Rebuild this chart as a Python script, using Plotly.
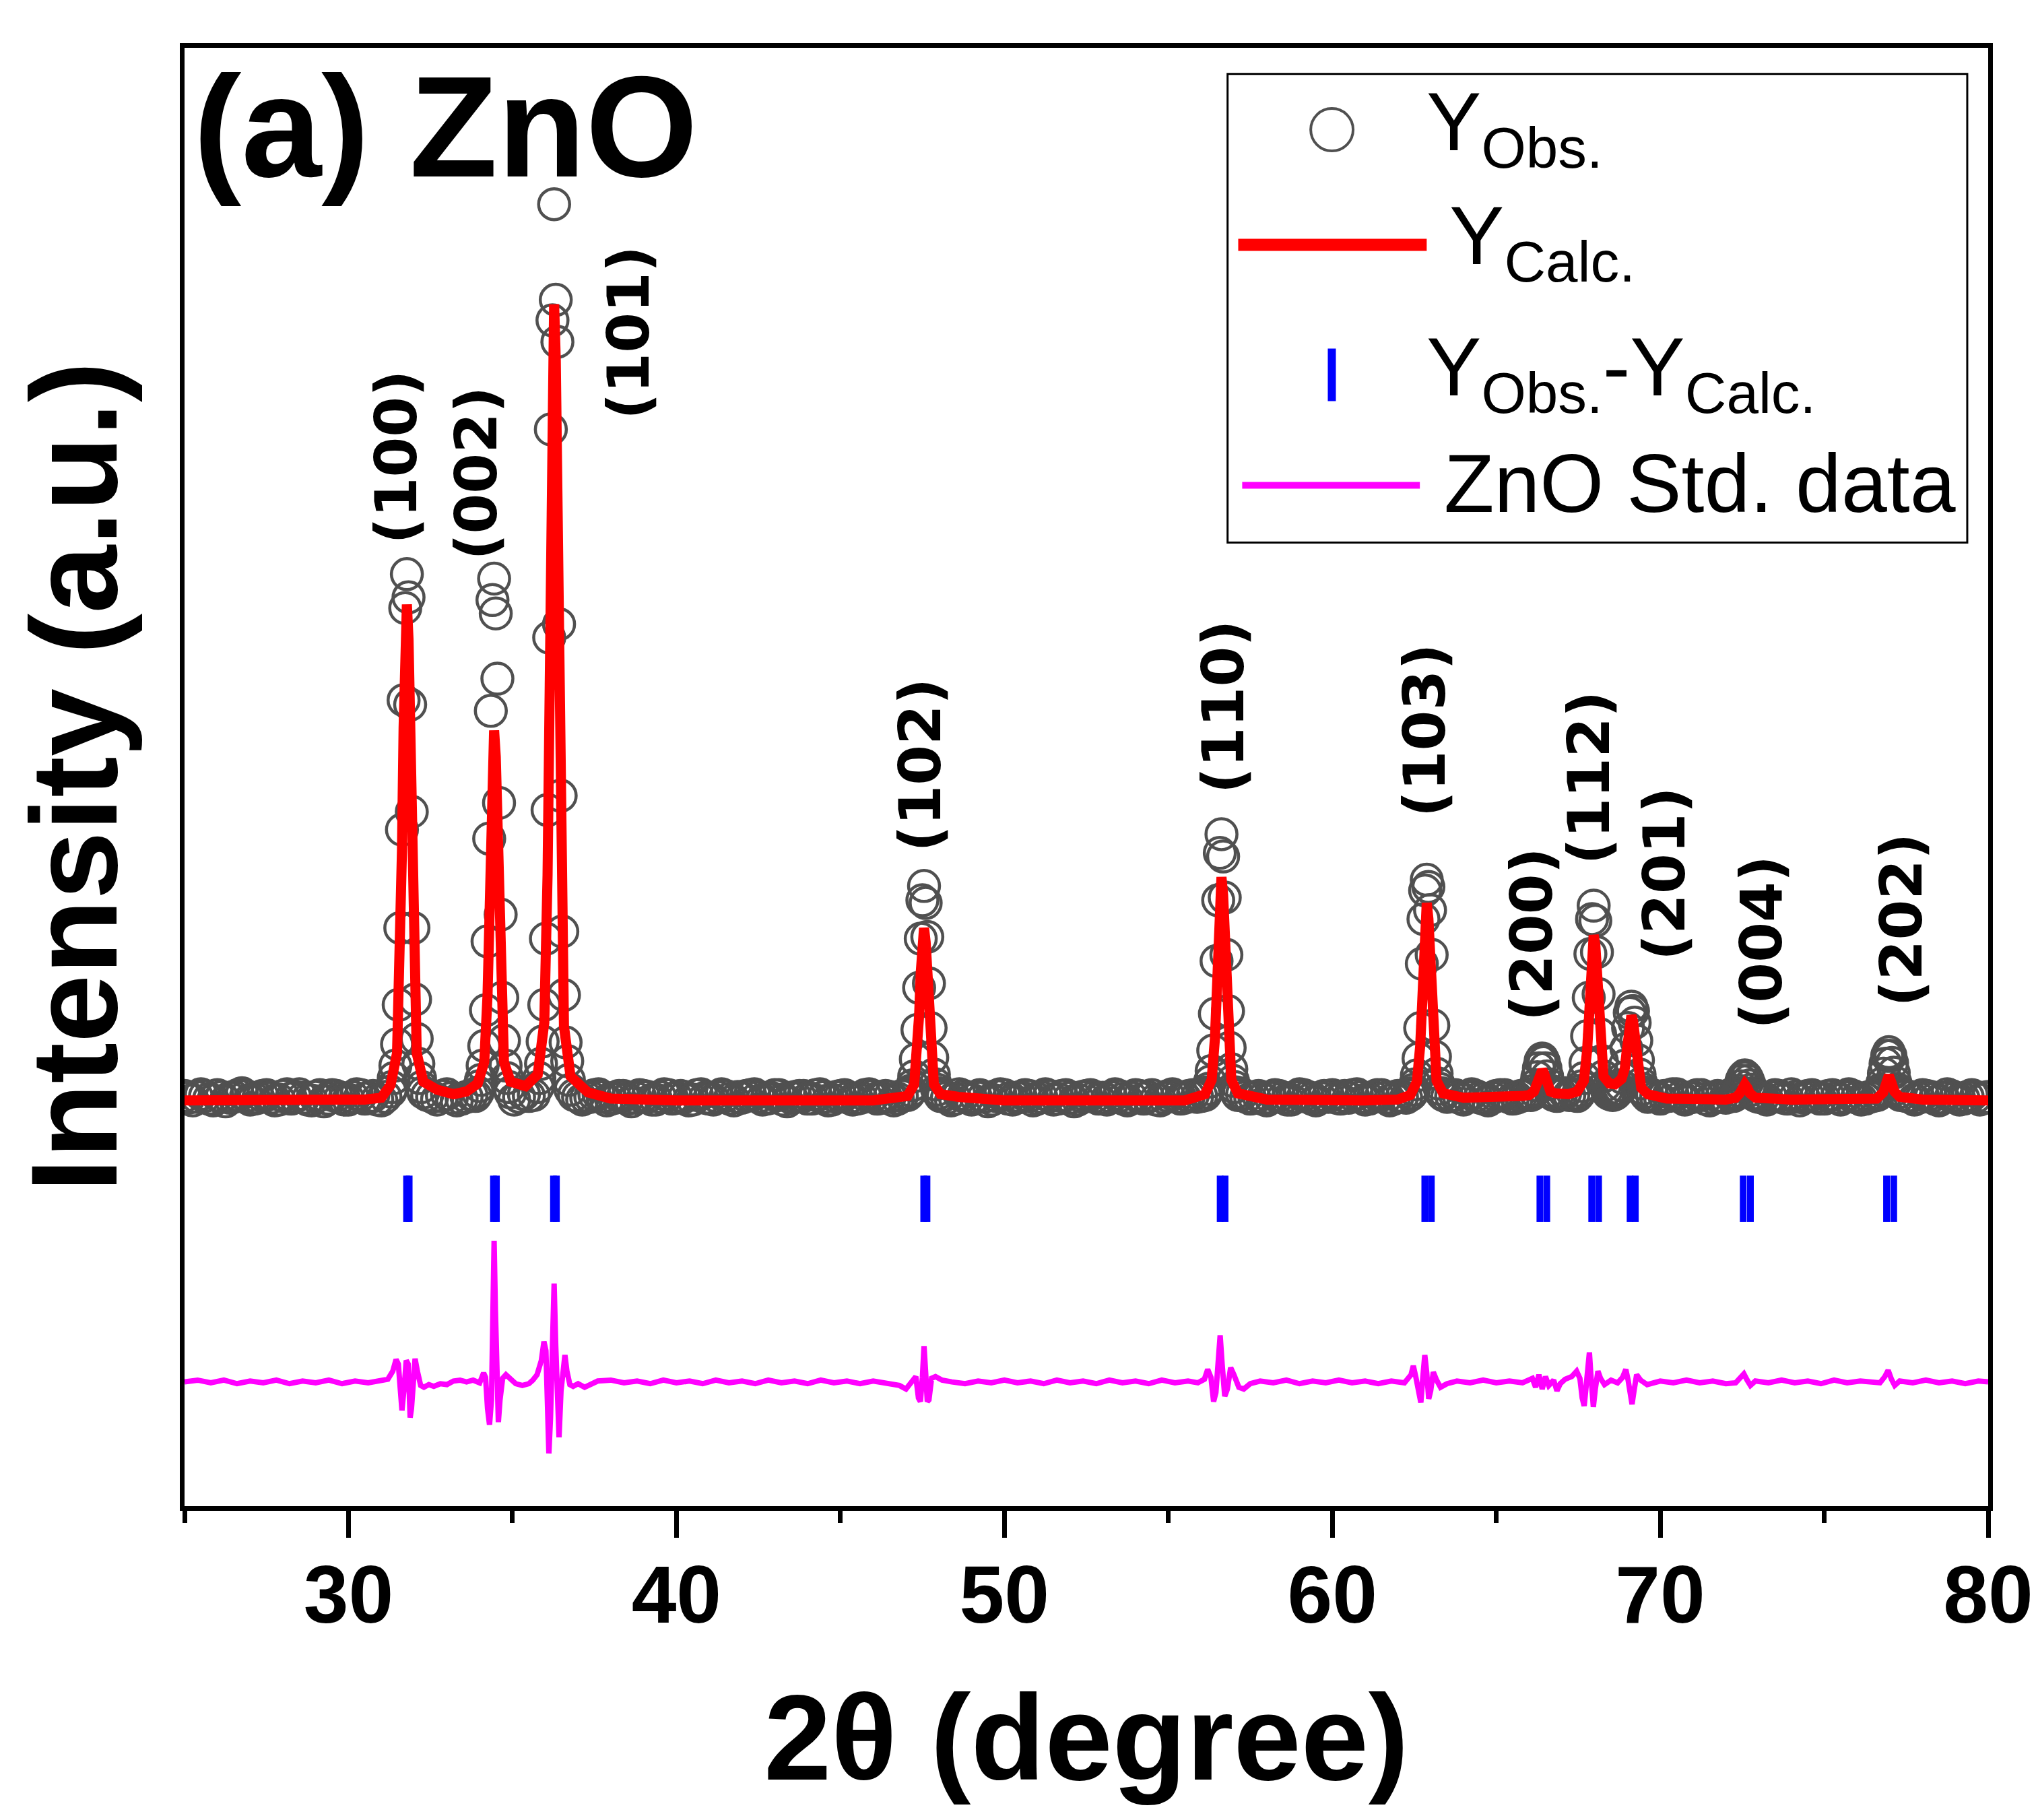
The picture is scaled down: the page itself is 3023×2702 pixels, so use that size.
import plotly.graph_objects as go

# observed pattern (2theta, counts in arbitrary units)
obs_2theta = [
    25.0, 25.125, 25.25, 25.375, 25.5, 25.625, 25.75, 25.875, 26.0, 26.125,
    26.25, 26.375, 26.5, 26.625, 26.75, 26.875, 27.0, 27.125, 27.25, 27.375,
    27.5, 27.625, 27.75, 27.875, 28.0, 28.125, 28.25, 28.375, 28.5, 28.625,
    28.75, 28.875, 29.0, 29.125, 29.25, 29.375, 29.5, 29.625, 29.75, 29.875,
    30.0, 30.125, 30.25, 30.375, 30.5, 30.625, 30.75, 30.875, 31.0, 31.125,
    31.28, 31.33, 31.38, 31.43, 31.48, 31.53, 31.58, 31.63, 31.68, 31.73, 31.78, 31.83, 31.88,
    31.93, 31.98, 32.03, 32.08, 32.13, 32.18, 32.23, 32.28,
    32.4, 32.55, 32.7, 32.85, 33.0, 33.15, 33.3, 33.45, 33.6, 33.75, 33.87,
    33.94, 33.99, 34.04, 34.09, 34.14, 34.19, 34.24, 34.29, 34.34, 34.39, 34.44, 34.49, 34.54,
    34.59, 34.64, 34.69, 34.74, 34.79, 34.84, 34.89, 34.94,
    35.05, 35.2, 35.35, 35.5, 35.65,
    35.77, 35.82, 35.87, 35.92, 35.97, 36.02, 36.07, 36.12, 36.17, 36.22, 36.27, 36.32, 36.37,
    36.42, 36.47, 36.52, 36.57, 36.62, 36.67, 36.72, 36.77,
    36.875, 37.0, 37.125, 37.25, 37.375, 37.5, 37.625, 37.75, 37.875, 38.0,
    38.125, 38.25, 38.375, 38.5, 38.625, 38.75, 38.875, 39.0, 39.125, 39.25,
    39.375, 39.5, 39.625, 39.75, 39.875, 40.0, 40.125, 40.25, 40.375, 40.5,
    40.625, 40.75, 40.875, 41.0, 41.125, 41.25, 41.375, 41.5, 41.625, 41.75,
    41.875, 42.0, 42.125, 42.25, 42.375, 42.5, 42.625, 42.75, 42.875, 43.0,
    43.125, 43.25, 43.375, 43.5, 43.625, 43.75, 43.875, 44.0, 44.125, 44.25,
    44.375, 44.5, 44.625, 44.75, 44.875, 45.0, 45.125, 45.25, 45.375, 45.5,
    45.625, 45.75, 45.875, 46.0, 46.125, 46.25, 46.375, 46.5, 46.625, 46.75,
    46.875,
    47.05, 47.10, 47.15, 47.20, 47.25, 47.30, 47.35, 47.40, 47.45, 47.50, 47.55, 47.60, 47.65,
    47.70, 47.75, 47.80, 47.85, 47.90, 47.95, 48.00, 48.05,
    48.125, 48.25, 48.375, 48.5, 48.625, 48.75, 48.875, 49.0, 49.125, 49.25,
    49.375, 49.5, 49.625, 49.75, 49.875, 50.0, 50.125, 50.25, 50.375, 50.5,
    50.625, 50.75, 50.875, 51.0, 51.125, 51.25, 51.375, 51.5, 51.625, 51.75,
    51.875, 52.0, 52.125, 52.25, 52.375, 52.5, 52.625, 52.75, 52.875, 53.0,
    53.125, 53.25, 53.375, 53.5, 53.625, 53.75, 53.875, 54.0, 54.125, 54.25,
    54.375, 54.5, 54.625, 54.75, 54.875, 55.0, 55.125, 55.25, 55.375, 55.5,
    55.625, 55.75, 55.875, 56.0,
    56.12, 56.17, 56.22, 56.27, 56.32, 56.37, 56.42, 56.47, 56.52, 56.57, 56.62, 56.67, 56.72,
    56.77, 56.82, 56.87, 56.92, 56.97, 57.02, 57.07, 57.12,
    57.25, 57.375, 57.5, 57.625, 57.75, 57.875, 58.0, 58.125, 58.25, 58.375,
    58.5, 58.625, 58.75, 58.875, 59.0, 59.125, 59.25, 59.375, 59.5, 59.625,
    59.75, 59.875, 60.0, 60.125, 60.25, 60.375, 60.5, 60.625, 60.75, 60.875,
    61.0, 61.125, 61.25, 61.375, 61.5, 61.625, 61.75, 61.875, 62.0, 62.125,
    62.25,
    62.38, 62.43, 62.48, 62.53, 62.58, 62.63, 62.68, 62.73, 62.78, 62.83, 62.88, 62.93, 62.98,
    63.03, 63.08, 63.13, 63.18, 63.23, 63.28, 63.33, 63.38,
    63.5, 63.625, 63.75, 63.875, 64.0, 64.125, 64.25, 64.375, 64.5, 64.625,
    64.75, 64.875, 65.0, 65.125, 65.25, 65.375, 65.5, 65.625, 65.75, 65.875, 65.97,
    66.05, 66.10, 66.15, 66.20, 66.25, 66.30, 66.35, 66.40, 66.45, 66.50, 66.55, 66.60, 66.65,
    66.70, 66.75,
    66.85, 66.975, 67.1, 67.225, 67.35,
    67.47, 67.52, 67.57, 67.62, 67.67, 67.72, 67.77, 67.82, 67.87, 67.92, 67.97, 68.02, 68.07,
    68.12, 68.17, 68.22, 68.27, 68.32, 68.37, 68.42, 68.47,
    68.55,
    68.62, 68.67, 68.72, 68.77, 68.82, 68.87, 68.92, 68.97, 69.02, 69.07, 69.12, 69.17, 69.22,
    69.27, 69.32, 69.37, 69.42, 69.47, 69.52, 69.57, 69.62,
    69.75, 69.875, 70.0, 70.125, 70.25, 70.375, 70.5, 70.625, 70.75, 70.875,
    71.0, 71.125, 71.25, 71.375, 71.5, 71.625, 71.75, 71.875, 72.0, 72.125,
    72.23, 72.28, 72.33, 72.38, 72.43, 72.48, 72.53, 72.58, 72.63, 72.68, 72.73, 72.78, 72.83,
    72.88, 72.93,
    73.0, 73.125, 73.25, 73.375, 73.5, 73.625, 73.75, 73.875, 74.0, 74.125,
    74.25, 74.375, 74.5, 74.625, 74.75, 74.875, 75.0, 75.125, 75.25, 75.375,
    75.5, 75.625, 75.75, 75.875, 76.0, 76.125, 76.25, 76.375, 76.5,
    76.62, 76.67, 76.72, 76.77, 76.82, 76.87, 76.92, 76.97, 77.02, 77.07, 77.12, 77.17, 77.22,
    77.27, 77.32,
    77.5, 77.625, 77.75, 77.875, 78.0, 78.125, 78.25, 78.375, 78.5, 78.625,
    78.75, 78.875, 79.0, 79.125, 79.25, 79.375, 79.5, 79.625, 79.75, 79.875, 80.0,
]
obs_intensity = [
    2, 0, -3, 1, 4, 2, -1, -3, 3, 1,
    -4, 0, 1, 3, 5, 2, -2, -1, 0, 2,
    3, 0, -3, -2, 2, 4, -1, 1, 4, 0,
    -2, -3, 1, 3, -4, -1, 3, 2, 0, -2,
    -2, 1, 4, 3, -1, 0, 2, -2, -3, 1,
    7, 12, 22, 36, 60, 104, 190, 300, 445, 548, 586, 560, 440, 320, 190, 110, 66, 38, 22, 12, 6,
    3, 1, -2, 2, 4, 0, -3, -1, 1, 3, 2,
    6, 13, 20, 36, 58, 98, 175, 290, 433, 557, 581, 542, 469, 330, 205, 112, 64, 36, 22, 12, 6,
    -2, 1, 4, 2, 3,
    12, 22, 38, 63, 104, 178, 322, 515, 748, 870, 1000, 893, 846, 530, 338, 186, 115, 62, 41, 20, 9,
    3, 1, -2, 0, 1, 3, 4, 1, -3, -1,
    0, 2, 2, -1, -4, 0, 3, 2, 1, -2,
    -2, 1, 4, 3, -1, 0, 2, 1, -3, -2,
    3, 4, 0, -1, -2, 1, 4, 2, -1, -3,
    1, 0, 2, 3, 4, 1, -2, -1, 0, 3,
    3, -2, -4, 0, 1, 2, 2, -1, -1, 3,
    4, 1, -3, -2, 1, 2, 3, 0, -2, -1,
    0, 3, 4, 2, -1, 0, 2, 1, -3, -1,
    2,
    3, 5, 8, 14, 24, 43, 76, 123, 178, 221, 237, 218, 180, 128, 78, 45, 26, 15, 9, 5, 2,
    2, 0, -3, -1, 4, 2, 0, -2, 1, 3,
    1, -4, -2, 2, 4, 3, -1, -2, 0, 1,
    3, 2, -3, -1, 1, 4, 2, -2, -1, 2,
    3, 0, -4, -2, 1, 2, 3, 1, -1, 0,
    -2, 1, 4, 2, -1, -3, 0, 3, 2, -1,
    1, 3, -2, -3, 0, 2, 4, 1, -1, 0,
    2, 3, 1, 2,
    3, 6, 10, 18, 30, 53, 94, 153, 221, 274, 295, 270, 224, 160, 97, 56, 32, 19, 12, 6, 3,
    4, 1, -1, 0, 2, -1, -3, 0, 3, 2,
    0, -2, -2, 1, 4, 3, 1, -1, -3, 0,
    2, 1, 3, 0, -1, 2, 0, 3, 4, 1,
    -2, -1, 1, 3, 3, 0, -3, -1, 2, 1,
    0,
    3, 5, 9, 15, 25, 44, 78, 150, 200, 232, 244, 236, 210, 160, 81, 46, 27, 16, 10, 5, 3,
    1, 2, 3, 0, -2, 1, 4, 2, 0, -1,
    -3, 0, 2, 3, 3, 1, -1, 0, 2, 3, 4,
    3, 4, 8, 14, 23, 33, 41, 44, 40, 33, 24, 15, 8, 5, 3,
    2, 4, 5, 3, 4,
    2, 4, 8, 13, 22, 39, 69, 112, 161, 200, 215, 198, 163, 116, 71, 41, 24, 14, 9, 5, 4,
    3,
    4, 6, 8, 10, 14, 22, 36, 55, 78, 95, 102, 97, 84, 64, 42, 26, 16, 10, 6, 3, 1,
    3, 1, -1, 2, 2, 4, 4, 1, -2, 0,
    1, 3, 3, -1, -3, 0, 2, 1, 0, 3,
    2, 3, 5, 8, 13, 19, 23, 25, 23, 19, 14, 9, 5, 3, 2,
    1, 0, -2, 1, 3, 2, 0, -1, 4, 1,
    -3, 0, 2, 3, 1, -1, -1, 2, 3, 0,
    -2, 1, 4, 2, 0, -2, -1, 1, 2,
    3, 5, 9, 16, 27, 38, 47, 51, 47, 39, 28, 17, 10, 6, 3,
    2, 1, -2, 0, 3, 2, 1, -1, -3, 0,
    4, 2, 0, -2, -1, 1, 3, 1, -2, 0, 1,
]

# calculated (fitted) profile
calc_2theta = [
    25.0, 28.0, 30.5, 31.0,
    31.28, 31.48, 31.58, 31.63, 31.68, 31.73, 31.78, 31.83, 31.88, 31.93, 31.98, 32.08, 32.28,
    32.7, 33.2, 33.6,
    33.94, 34.14, 34.24, 34.29, 34.34, 34.39, 34.44, 34.49, 34.54, 34.59, 34.64, 34.74, 34.94,
    35.4,
    35.77, 35.97, 36.07, 36.12, 36.17, 36.22, 36.27, 36.32, 36.37, 36.42, 36.47, 36.57, 36.77,
    37.3, 38.0, 40.0, 46.0,
    47.05, 47.25, 47.35, 47.40, 47.45, 47.50, 47.55, 47.60, 47.65, 47.70, 47.75, 47.85, 48.05,
    48.6, 50.0, 55.5,
    56.12, 56.32, 56.42, 56.47, 56.52, 56.57, 56.62, 56.67, 56.72, 56.77, 56.82, 56.92, 57.12,
    58.0, 61.0, 62.0,
    62.38, 62.58, 62.68, 62.73, 62.78, 62.83, 62.88, 62.93, 62.98, 63.03, 63.08, 63.18, 63.38,
    64.0, 65.8,
    66.00, 66.15, 66.25, 66.30, 66.35, 66.40, 66.45, 66.50, 66.55, 66.65, 66.80,
    67.2,
    67.47, 67.67, 67.77, 67.82, 67.87, 67.92, 67.97, 68.02, 68.07, 68.12, 68.17, 68.27, 68.45,
    68.62, 68.82, 68.92, 68.97, 69.02, 69.07, 69.12, 69.17, 69.22, 69.27, 69.32, 69.42, 69.62,
    70.2, 72.0,
    72.3, 72.43, 72.50, 72.58, 72.66, 72.73, 72.9,
    74.0,
    76.6, 76.80, 76.89, 76.97, 77.05, 77.14, 77.3,
    78.0, 80.0,
]
calc_intensity = [
    -3, -3, -2, 0,
    14, 50, 155, 276, 414, 513, 552, 513, 414, 276, 155, 50, 18,
    9, 4, 7,
    16, 40, 115, 206, 308, 382, 411, 382, 308, 206, 115, 40, 18,
    13,
    26, 84, 249, 444, 666, 826, 888, 826, 666, 444, 249, 80, 24,
    6, -1, -3, -3,
    2, 15, 50, 92, 140, 174, 190, 174, 140, 92, 50, 15, 4,
    1, -3, -3,
    4, 20, 66, 121, 182, 227, 247, 227, 182, 121, 66, 20, 5,
    -2, -3, -2,
    3, 18, 58, 106, 161, 200, 218, 200, 161, 106, 58, 19, 5,
    0, 2,
    3, 7, 16, 22, 28, 31, 28, 22, 16, 7, 5,
    4,
    7, 19, 53, 93, 139, 171, 182, 171, 139, 93, 55, 24, 16,
    15, 21, 33, 50, 70, 86, 92, 86, 70, 47, 28, 11, 4,
    -1, -2,
    0, 5, 11, 15, 11, 5, 0,
    -2,
    -1, 6, 16, 25, 17, 7, 1,
    -2, -3,
]

# Bragg reflection positions (K-alpha1 / K-alpha2)
bragg_2theta = [31.77, 31.85, 34.42, 34.51, 36.25, 36.34, 47.54, 47.64, 56.58, 56.73,
                62.82, 63.02, 66.33, 66.54, 67.91, 68.12, 69.08, 69.24, 72.53, 72.75,
                76.90, 77.12]

# difference curve (before vertical shift)
diff_2theta = [
    25.0, 25.4, 25.8, 26.2, 26.6, 27.0, 27.4, 27.8, 28.2, 28.6, 29.0, 29.4, 29.8, 30.2, 30.6,
    31.0, 31.2, 31.35, 31.45, 31.52, 31.58, 31.63, 31.70, 31.76, 31.82, 31.88, 31.92, 31.97,
    32.03, 32.10, 32.2, 32.3, 32.45, 32.6, 32.8, 33.0, 33.2, 33.4, 33.6, 33.8, 34.0, 34.12,
    34.18, 34.24, 34.30, 34.36, 34.40, 34.44, 34.48, 34.52, 34.57, 34.62, 34.70, 34.80, 34.95,
    35.1, 35.3, 35.5, 35.62, 35.75, 35.88, 35.96, 36.02, 36.07, 36.11, 36.16, 36.22, 36.27,
    36.32, 36.38, 36.42, 36.48, 36.54, 36.60, 36.66, 36.75, 36.85, 37.0, 37.2, 37.4, 37.6,
    38.0, 38.4, 38.8, 39.2, 39.6, 40.0, 40.4, 40.8, 41.2, 41.6, 42.0, 42.4, 42.8, 43.2, 43.6,
    44.0, 44.4, 44.8, 45.2, 45.6, 46.0, 46.4, 46.8, 47.0, 47.15, 47.30, 47.38, 47.44, 47.50,
    47.55, 47.60, 47.65, 47.70, 47.78, 47.9, 48.1, 48.4, 48.8, 49.2, 49.6, 50.0, 50.4, 50.8,
    51.2, 51.6, 52.0, 52.4, 52.8, 53.2, 53.6, 54.0, 54.4, 54.8, 55.2, 55.6, 55.9, 56.1, 56.2,
    56.3, 56.38, 56.45, 56.52, 56.58, 56.64, 56.72, 56.80, 56.90, 57.0, 57.15, 57.3, 57.5,
    57.8, 58.2, 58.6, 59.0, 59.4, 59.8, 60.2, 60.6, 61.0, 61.4, 61.8, 62.2, 62.4, 62.47, 62.55,
    62.62, 62.70, 62.76, 62.82, 62.88, 62.94, 63.0, 63.08, 63.18, 63.3, 63.5, 63.8, 64.2, 64.6,
    65.0, 65.4, 65.8, 66.1, 66.2, 66.3, 66.4, 66.5, 66.6, 66.75, 66.85, 66.95, 67.1, 67.3,
    67.45, 67.55, 67.62, 67.68, 67.74, 67.80, 67.84, 67.88, 67.92, 67.96, 68.02, 68.10, 68.18,
    68.3, 68.5, 68.7, 68.85, 68.95, 69.02, 69.08, 69.14, 69.20, 69.28, 69.4, 69.6, 70.0, 70.4,
    70.8, 71.2, 71.6, 72.0, 72.3, 72.45, 72.55, 72.65, 72.75, 72.9, 73.3, 73.7, 74.1, 74.5,
    74.9, 75.3, 75.7, 76.1, 76.5, 76.7, 76.85, 76.95, 77.05, 77.15, 77.3, 77.7, 78.1, 78.5,
    78.9, 79.3, 79.7, 80.0,
]
diff_values = [
    0, 2, -1, 2, -2, 1, -1, 2, -2, 1, -1, 2, -2, 1, -1,
    1, 3, 12, 25, 20, -10, -32, -5, 24, 20, -40, -30, 5,
    26, 12, -4, -6, -3, -5, -2, -3, 1, 2, 0, 2, -1, 10,
    5, -30, -48, -20, 60, 158, 80, -10, -45, -20, 4, 8, 2,
    -2, -4, -2, 2, 8, 24, 45, 35, -20, -80, -40, 50, 110,
    40, -40, -62, -10, 20, 30, 12, -3, -5, -2, -6, -2, 1,
    2, -1, 1, -2, 2, -1, 1, -2, 2, -1, 1, -2, 2, -1, 1,
    -2, 2, -1, 1, -2, 1, -1, -4, -8, -2, 6, -18, -22, 5,
    40, 10, -22, -20, 4, 6, 2, 0, -2, 1, -1, 2, -1, 1,
    -2, 2, -1, 1, -2, 2, -1, 1, -2, 2, -1, 1, -1, 3, 14,
    5, -22, -12, 20, 52, 20, -16, -8, 16, 8, -6, -8, -2,
    1, -1, 2, -2, 1, -1, 2, -1, 1, -2, 1, -1, 8, 18, 5,
    -10, -23, 5, 30, 10, -19, -10, 11, 2, -6, -2, 1, -1, 2,
    -1, 1, -1, 4, -6, 8, -8, 6, -4, 2, -10, -2, 3, 6,
    12, 4, -18, -27, -5, 20, 33, 10, -20, -28, -8, 12, 4,
    -3, 2, -1, 5, 14, 2, -15, -25, -10, 8, 2, -3, 1, -1,
    2, -1, 1, -2, -1, 4, 9, 2, -4, 1, -1, 2, -1, 1,
    -2, 2, -1, 1, -1, -1, 6, 13, 3, -4, 1, -1, 2, -1,
    1, -2, 1, 0,
]

# Miller indices and where their labels sit (2theta, intensity)
hkl_labels = ["(100)", "(002)", "(101)", "(102)", "(110)", "(103)",
              "(200)", "(112)", "(201)", "(004)", "(202)"]
label_2theta = [31.45, 33.90, 38.53, 47.44, 56.66, 62.79, 66.08, 67.82, 70.11, 73.08, 77.35]
label_intensity = [717, 699, 856, 372, 437, 411, 183, 358, 251, 174, 199]

DIFF_SHIFT = -318
BRAGG_LEVEL = -113

assert len(obs_2theta) == len(obs_intensity)
assert len(calc_2theta) == len(calc_intensity)
assert len(diff_2theta) == len(diff_values)

fig = go.Figure()

fig.add_trace(go.Scatter(
    x=obs_2theta, y=obs_intensity, mode="markers", name="Y_Obs.",
    marker=dict(symbol="circle-open", size=46, color="#505050", line=dict(width=4.5)),
))
fig.add_trace(go.Scatter(
    x=calc_2theta, y=calc_intensity, mode="lines", name="Y_Calc.",
    line=dict(color="#ff0000", width=15),
))
fig.add_trace(go.Scatter(
    x=bragg_2theta, y=[BRAGG_LEVEL] * len(bragg_2theta), mode="markers", name="Bragg",
    marker=dict(symbol="line-ns", size=49, color="#0000ff", line=dict(width=10, color="#0000ff")),
))
fig.add_trace(go.Scatter(
    x=diff_2theta, y=[v + DIFF_SHIFT for v in diff_values], mode="lines", name="diff",
    line=dict(color="#ff00ff", width=8),
))

# hkl labels
for txt, lx, ly in zip(hkl_labels, label_2theta, label_intensity):
    fig.add_annotation(x=lx, y=ly, text=txt, textangle=-90, showarrow=False,
                       font=dict(family="DejaVu Sans", size=86, weight="bold", color="black"))

# panel title
fig.add_annotation(xref="paper", yref="paper", x=0.004, y=0.946, xanchor="left", yanchor="middle",
                   text="(a) ZnO", showarrow=False,
                   font=dict(family="Liberation Sans", size=214, weight="bold", color="black"))

# hand-drawn legend box
fig.add_shape(type="rect", xref="paper", yref="paper", x0=0.5783, x1=0.9884, y0=0.6607, y1=0.9821,
              line=dict(color="black", width=3), fillcolor="white", layer="above")
fig.add_shape(type="circle", xref="paper", yref="paper", x0=0.6244, x1=0.6479, y0=0.9293, y1=0.9584,
              line=dict(color="#505050", width=4), layer="above")
fig.add_shape(type="line", xref="paper", yref="paper", x0=0.5842, x1=0.6887, y0=0.8649, y1=0.8649,
              line=dict(color="#ff0000", width=18), layer="above")
fig.add_shape(type="line", xref="paper", yref="paper", x0=0.6361, x1=0.6361, y0=0.7577, y1=0.7938,
              line=dict(color="#0000ff", width=12), layer="above")
fig.add_shape(type="line", xref="paper", yref="paper", x0=0.5864, x1=0.6849, y0=0.7000, y1=0.7000,
              line=dict(color="#ff00ff", width=10), layer="above")

legend_font = dict(family="Liberation Sans", size=122, color="black")
for txt, lx, ly in [("Y<sub>Obs.</sub>", 0.6877, 0.945),
                    ("Y<sub>Calc.</sub>", 0.7004, 0.867),
                    ("Y<sub>Obs.</sub>-Y<sub>Calc.</sub>", 0.6877, 0.777),
                    ("ZnO Std. data", 0.6975, 0.701)]:
    fig.add_annotation(xref="paper", yref="paper", x=lx, y=ly, xanchor="left", yanchor="middle",
                       text=txt, showarrow=False, font=legend_font)

fig.update_layout(
    width=3023, height=2702,
    margin=dict(l=266, r=75, t=63, b=474),
    plot_bgcolor="white", paper_bgcolor="white",
    showlegend=False,
    font=dict(family="Liberation Sans", color="black"),
)
fig.update_xaxes(
    range=[25, 80], tick0=0, dtick=10,
    ticks="outside", ticklen=40, tickwidth=7, tickcolor="black",
    minor=dict(tick0=0, dtick=5, ticks="outside", ticklen=18, tickwidth=7, tickcolor="black"),
    showline=True, linewidth=7, linecolor="black", mirror=True,
    showgrid=False, zeroline=False,
    tickfont=dict(family="Liberation Sans", size=120, weight="bold", color="black"),
    ticklabelstandoff=-18,
    title=dict(text="2θ (degree)", standoff=85,
               font=dict(family="Liberation Sans", size=180, weight="bold", color="black")),
)
fig.update_yaxes(
    range=[-457, 1175],
    showticklabels=False, ticks="",
    showline=True, linewidth=7, linecolor="black", mirror=True,
    showgrid=False, zeroline=False,
    title=dict(text="Intensity (a.u.)", standoff=70,
               font=dict(family="Liberation Sans", size=182, weight="bold", color="black")),
)

fig.write_html("out.html")
